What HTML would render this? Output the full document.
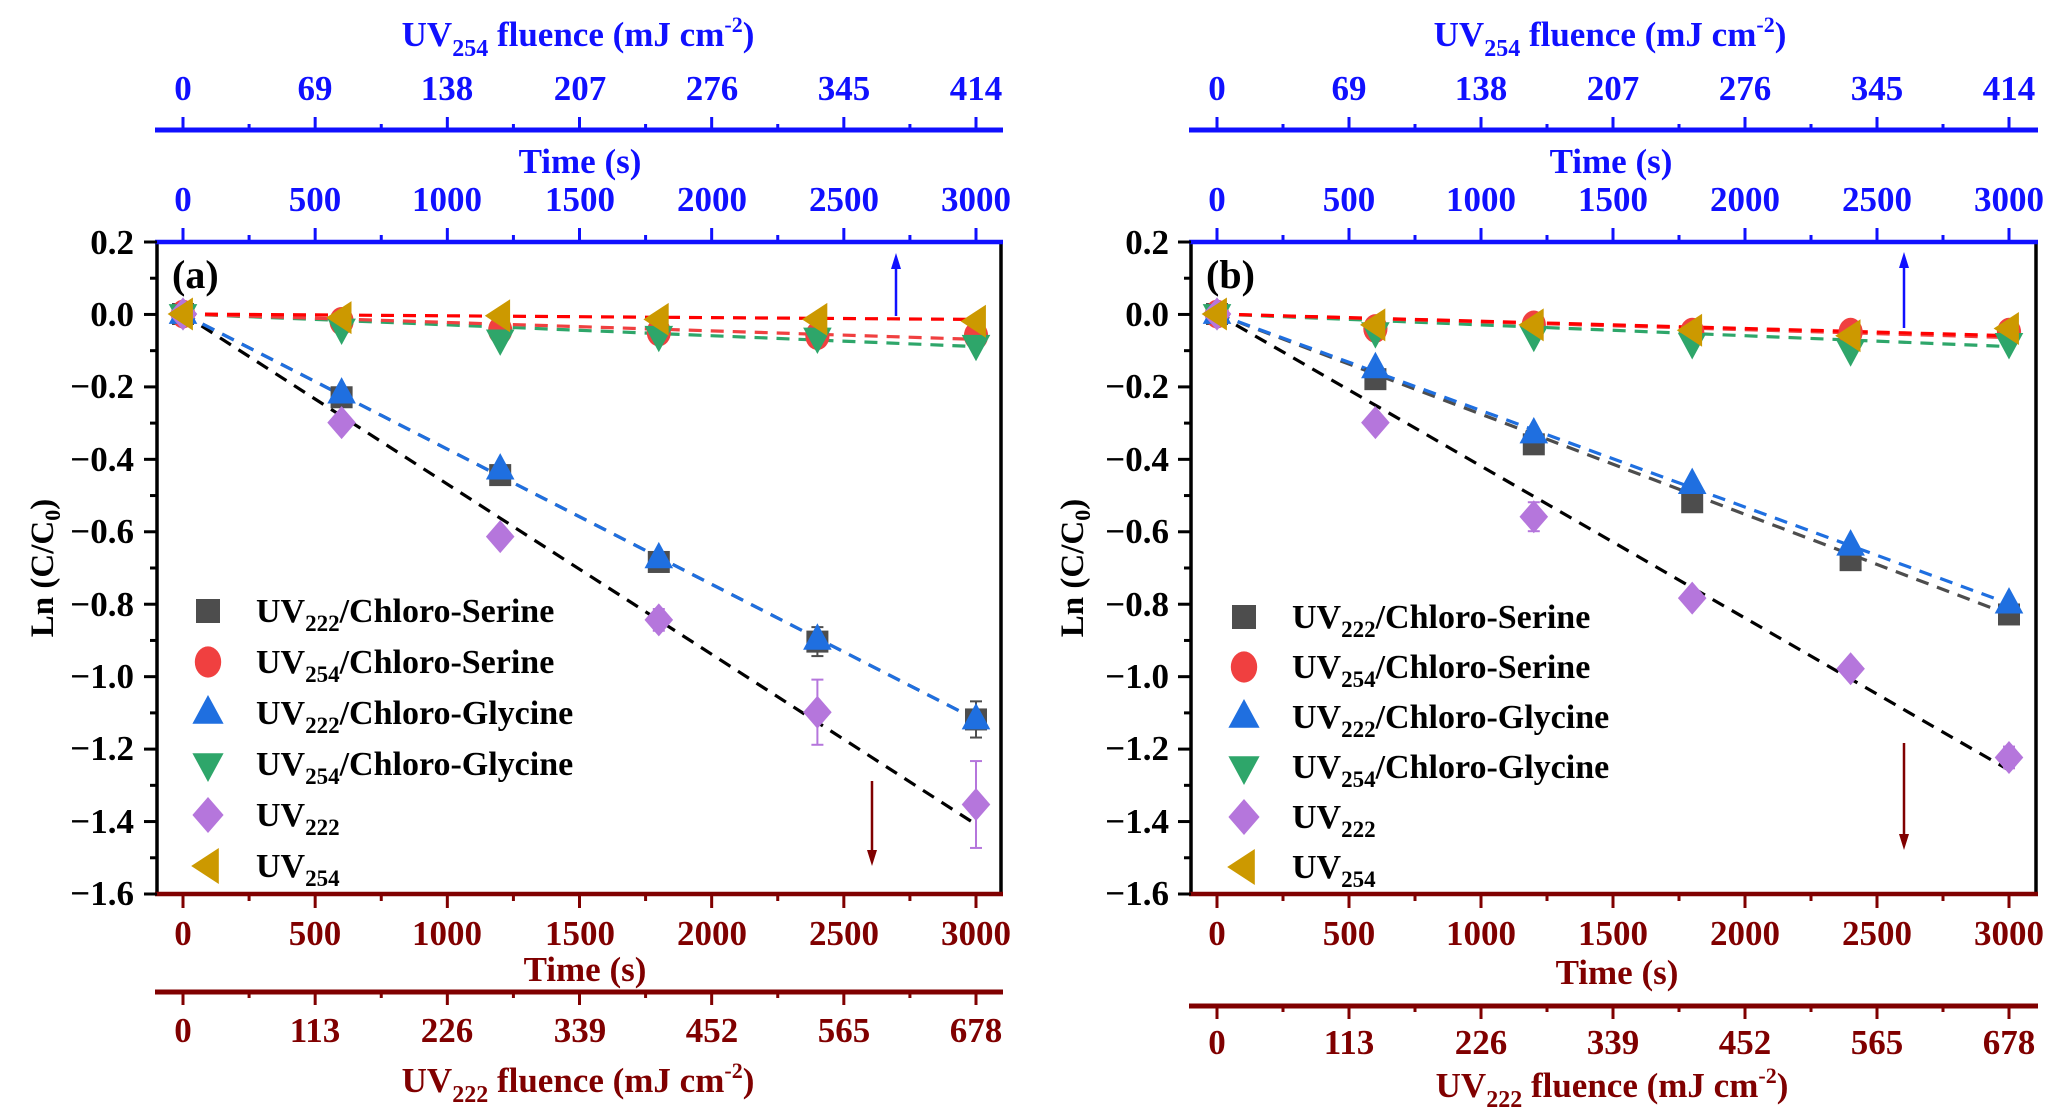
<!DOCTYPE html>
<html><head><meta charset="utf-8"><style>
body{margin:0;background:#fff}
svg{display:block}
text{font-family:"Liberation Serif",serif;font-weight:bold}
.t{font-size:35px}
.yl{font-size:35px;text-anchor:end}
.lg{font-size:34px}
.b{fill:#1010ff}.r{fill:#800000}
</style></head><body>
<svg id="s" width="2048" height="1116" viewBox="0 0 2048 1116" xmlns="http://www.w3.org/2000/svg">
<g id="g"></g>
<g text-anchor="middle" class="b t">
<text x="183" y="100">0</text><text x="315" y="100">69</text><text x="447" y="100">138</text><text x="580" y="100">207</text><text x="712" y="100">276</text><text x="844" y="100">345</text><text x="976" y="100">414</text>
<text x="183" y="211">0</text><text x="315" y="211">500</text><text x="447" y="211">1000</text><text x="580" y="211">1500</text><text x="712" y="211">2000</text><text x="844" y="211">2500</text><text x="976" y="211">3000</text>
<text x="580" y="173">Time (s)</text>
<text x="578" y="46">UV<tspan font-size="24" dy="10">254</tspan><tspan dy="-10"> fluence (mJ cm</tspan><tspan font-size="22" dy="-14">-2</tspan><tspan dy="14">)</tspan></text>
</g>
<g text-anchor="middle" class="r t">
<text x="183" y="945">0</text><text x="315" y="945">500</text><text x="447" y="945">1000</text><text x="580" y="945">1500</text><text x="712" y="945">2000</text><text x="844" y="945">2500</text><text x="976" y="945">3000</text>
<text x="585" y="981">Time (s)</text>
<text x="183" y="1042">0</text><text x="315" y="1042">113</text><text x="447" y="1042">226</text><text x="580" y="1042">339</text><text x="712" y="1042">452</text><text x="844" y="1042">565</text><text x="976" y="1042">678</text>
<text x="578" y="1092">UV<tspan font-size="24" dy="10">222</tspan><tspan dy="-10"> fluence (mJ cm</tspan><tspan font-size="22" dy="-14">-2</tspan><tspan dy="14">)</tspan></text>
</g>
<g class="yl">
<text x="134" y="254">0.2</text><text x="134" y="326">0.0</text><text x="134" y="398">−0.2</text><text x="134" y="471">−0.4</text><text x="134" y="543">−0.6</text><text x="134" y="616">−0.8</text><text x="134" y="688">−1.0</text><text x="134" y="760">−1.2</text><text x="134" y="833">−1.4</text><text x="134" y="905">−1.6</text>
</g>
<text x="0" y="0" font-size="33" text-anchor="middle" transform="translate(53,568) rotate(-90)">Ln (C/C<tspan font-size="22" dy="7">0</tspan><tspan dy="-7">)</tspan></text>
<text x="172" y="288" font-size="40">(a)</text>
<g class="lg">
<text x="256" y="622">UV<tspan font-size="23" dy="9">222</tspan><tspan dy="-9">/Chloro-Serine</tspan></text>
<text x="256" y="673">UV<tspan font-size="23" dy="9">254</tspan><tspan dy="-9">/Chloro-Serine</tspan></text>
<text x="256" y="724">UV<tspan font-size="23" dy="9">222</tspan><tspan dy="-9">/Chloro-Glycine</tspan></text>
<text x="256" y="775">UV<tspan font-size="23" dy="9">254</tspan><tspan dy="-9">/Chloro-Glycine</tspan></text>
<text x="256" y="826">UV<tspan font-size="23" dy="9">222</tspan></text>
<text x="256" y="877">UV<tspan font-size="23" dy="9">254</tspan></text>
</g>
<g text-anchor="middle" class="b t">
<text x="1217" y="100">0</text><text x="1349" y="100">69</text><text x="1481" y="100">138</text><text x="1613" y="100">207</text><text x="1745" y="100">276</text><text x="1877" y="100">345</text><text x="2009" y="100">414</text>
<text x="1217" y="211">0</text><text x="1349" y="211">500</text><text x="1481" y="211">1000</text><text x="1613" y="211">1500</text><text x="1745" y="211">2000</text><text x="1877" y="211">2500</text><text x="2009" y="211">3000</text>
<text x="1611" y="173">Time (s)</text>
<text x="1610" y="46">UV<tspan font-size="24" dy="10">254</tspan><tspan dy="-10"> fluence (mJ cm</tspan><tspan font-size="22" dy="-14">-2</tspan><tspan dy="14">)</tspan></text>
</g>
<g text-anchor="middle" class="r t">
<text x="1217" y="945">0</text><text x="1349" y="945">500</text><text x="1481" y="945">1000</text><text x="1613" y="945">1500</text><text x="1745" y="945">2000</text><text x="1877" y="945">2500</text><text x="2009" y="945">3000</text>
<text x="1617" y="984">Time (s)</text>
<text x="1217" y="1054">0</text><text x="1349" y="1054">113</text><text x="1481" y="1054">226</text><text x="1613" y="1054">339</text><text x="1745" y="1054">452</text><text x="1877" y="1054">565</text><text x="2009" y="1054">678</text>
<text x="1612" y="1097">UV<tspan font-size="24" dy="10">222</tspan><tspan dy="-10"> fluence (mJ cm</tspan><tspan font-size="22" dy="-14">-2</tspan><tspan dy="14">)</tspan></text>
</g>
<g class="yl">
<text x="1169" y="254">0.2</text><text x="1169" y="326">0.0</text><text x="1169" y="398">−0.2</text><text x="1169" y="471">−0.4</text><text x="1169" y="543">−0.6</text><text x="1169" y="616">−0.8</text><text x="1169" y="688">−1.0</text><text x="1169" y="760">−1.2</text><text x="1169" y="833">−1.4</text><text x="1169" y="905">−1.6</text>
</g>
<text x="0" y="0" font-size="33" text-anchor="middle" transform="translate(1083,568) rotate(-90)">Ln (C/C<tspan font-size="22" dy="7">0</tspan><tspan dy="-7">)</tspan></text>
<text x="1206" y="288" font-size="40">(b)</text>
<g class="lg">
<text x="1292" y="628">UV<tspan font-size="23" dy="9">222</tspan><tspan dy="-9">/Chloro-Serine</tspan></text>
<text x="1292" y="678">UV<tspan font-size="23" dy="9">254</tspan><tspan dy="-9">/Chloro-Serine</tspan></text>
<text x="1292" y="728">UV<tspan font-size="23" dy="9">222</tspan><tspan dy="-9">/Chloro-Glycine</tspan></text>
<text x="1292" y="778">UV<tspan font-size="23" dy="9">254</tspan><tspan dy="-9">/Chloro-Glycine</tspan></text>
<text x="1292" y="828">UV<tspan font-size="23" dy="9">222</tspan></text>
<text x="1292" y="878">UV<tspan font-size="23" dy="9">254</tspan></text>
</g>
</svg>
<script>
var NS="http://www.w3.org/2000/svg",G=document.getElementById("g");
function el(n,a){var e=document.createElementNS(NS,n);for(var k in a)e.setAttribute(k,a[k]);G.appendChild(e);return e;}
function line(x1,y1,x2,y2,c,w,d){el("line",{x1:x1,y1:y1,x2:x2,y2:y2,stroke:c,"stroke-width":w,"stroke-dasharray":d||"none"});}
var C={sq:"#4d4d4d",ci:"#f04040",tu:"#1f6fe0",td:"#2ea66a",di:"#b576dc",tl:"#cc9900"};
function mk(t,x,y,s){s=s||1.1;
 if(t=="sq")el("rect",{x:x-10*s,y:y-10*s,width:20*s,height:20*s,fill:C.sq});
 if(t=="ci")el("ellipse",{cx:x,cy:y,rx:11*s,ry:13*s,fill:C.ci});
 if(t=="tu")el("polygon",{points:[x,y-15*s,x+13*s,y+9*s,x-13*s,y+9*s].join(" "),fill:C.tu});
 if(t=="td")el("polygon",{points:[x,y+15*s,x+13*s,y-9*s,x-13*s,y-9*s].join(" "),fill:C.td});
 if(t=="di")el("polygon",{points:[x,y-15*s,x+13*s,y,x,y+15*s,x-13*s,y].join(" "),fill:C.di});
 if(t=="tl")el("polygon",{points:[x-14*s,y,x+9*s,y-15*s,x+9*s,y+15*s].join(" "),fill:C.tl});
}
function panel(o){
 var X0=o.x0,L=o.L,R=o.R,T=242,B=894,sx=(o.x3-X0)/3000;
 function X(t){return X0+t*sx} function Y(v){return 314-v*362}
 var keys=["sq","ci","tu","td","di","tl"];
 for(var i=0;i<6;i++)mk(keys[i],o.lx,o.ly+i*o.ld,1.2);
 var ts=[0,600,1200,1800,2400,3000];
 o.lines.forEach(function(l){line(X(0),Y(0),X(3000),Y(l[1]),l[0],3.2,"13 9");});
 o.data.forEach(function(d){var t=d[0];d[1].forEach(function(v,i){
   if(d[2]&&d[2][i]){line(X(ts[i]),Y(v-d[2][i]),X(ts[i]),Y(v+d[2][i]),C[t],2);line(X(ts[i])-6,Y(v-d[2][i]),X(ts[i])+6,Y(v-d[2][i]),C[t],2);line(X(ts[i])-6,Y(v+d[2][i]),X(ts[i])+6,Y(v+d[2][i]),C[t],2);}
   mk(t,X(ts[i]),Y(v));});});
 line(L,T,L,B+1.5,"#000",3.5);line(R,T,R,B+1.5,"#000",3.5);
 line(L-2,T,R+2,T,"#1010ff",4.5);line(L-2,B,R+2,B,"#800000",4.5);
 for(var k=0;k<=18;k++){var y=T+k*(B-T)/18;line(L-(k%2?7:13),y,L,y,"#000",3);}
 for(var k=0;k<=12;k++){var x=X(k*250),m=k%2==0;
  line(x,T,x,T-(m?14:7),"#1010ff",3);
  line(x,B,x,B+(m?14:7),"#800000",3);
  line(x,130,x,130-(m?13:6),"#1010ff",3);
  line(x,o.fb,x,o.fb+(m?13:6),"#800000",3);}
 line(L-2,130,R+2,130,"#1010ff",5);line(L-2,o.fb,R+2,o.fb,"#800000",5);
 line(o.ua,o.ua1,o.ua,o.ua2+10,"#1010ff",2.5);el("polygon",{points:[o.ua,o.ua2,o.ua-5,o.ua2+16,o.ua+5,o.ua2+16].join(" "),fill:"#1010ff"});
 line(o.da,o.da1,o.da,o.da2-10,"#800000",2.5);el("polygon",{points:[o.da,o.da2,o.da-5,o.da2-16,o.da+5,o.da2-16].join(" "),fill:"#800000"});
}
panel({x0:183,x3:976,L:157,R:1001,fb:992,lx:208,ly:611,ld:51,ua:896,ua1:316,ua2:253,da:872,da1:781,da2:866,
 lines:[["#4d4d4d",-1.12],["#2ea66a",-0.09],["#f04040",-0.07],["#000",-1.41],["#1f6fe0",-1.12],["#ff0000",-0.015]],
 data:[["sq",[0,-0.23,-0.445,-0.685,-0.905,-1.12],[0,0,0,0.01,0.04,0.05]],
  ["ci",[0,-0.02,-0.045,-0.05,-0.06,-0.06]],
  ["tu",[0,-0.22,-0.43,-0.675,-0.9,-1.12]],
  ["td",[0,-0.04,-0.07,-0.06,-0.065,-0.085]],
  ["di",[0,-0.3,-0.615,-0.845,-1.1,-1.355],[0,0.02,0,0.03,0.09,0.12]],
  ["tl",[0,-0.01,-0.005,-0.015,-0.015,-0.02]]]});
panel({x0:1217,x3:2009,L:1191,R:2036,fb:1006,lx:1244,ly:617,ld:50,ua:1904,ua1:328,ua2:252,da:1904,da1:743,da2:850,
 lines:[["#4d4d4d",-0.83],["#2ea66a",-0.09],["#f04040",-0.065],["#000",-1.26],["#1f6fe0",-0.8],["#ff0000",-0.06]],
 data:[["sq",[0,-0.18,-0.36,-0.52,-0.68,-0.83]],
  ["ci",[0,-0.04,-0.03,-0.05,-0.05,-0.05]],
  ["tu",[0,-0.15,-0.33,-0.47,-0.64,-0.8]],
  ["td",[0,-0.05,-0.06,-0.08,-0.1,-0.08]],
  ["di",[0,-0.3,-0.56,-0.785,-0.98,-1.225],[0,0,0.04,0,0,0.03]],
  ["tl",[0,-0.03,-0.03,-0.045,-0.06,-0.04]]]});
</script>
</body></html>
